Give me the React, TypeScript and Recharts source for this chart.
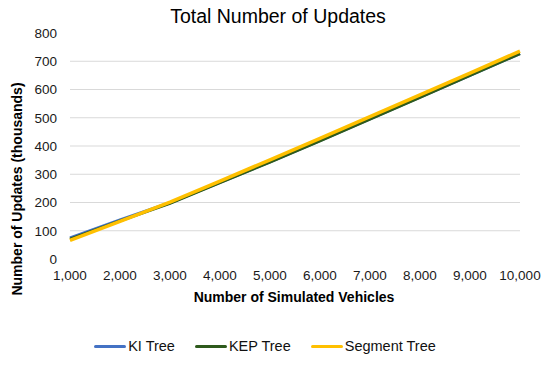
import { LineChart, Line, XAxis, YAxis, CartesianGrid, Legend } from "recharts";

const vehicles = [1000, 2000, 3000, 4000, 5000, 6000, 7000, 8000, 9000, 10000];
const kiTree = [75, 138, 199, 271, 344, 419, 496, 573, 650, 727];
const kepTree = [70, 135, 197, 270, 343, 418, 495, 572, 650, 727];
const segmentTree = [66, 133, 201, 276, 351, 427, 504, 581, 658, 736];

const seriesNames = ["KI Tree", "KEP Tree", "Segment Tree"];
const xTicks = [1000, 2000, 3000, 4000, 5000, 6000, 7000, 8000, 9000, 10000];
const yTicks = [0, 100, 200, 300, 400, 500, 600, 700, 800];
const gridValues = [100, 200, 300, 400, 500, 600, 700];

const data = vehicles.map((v, i) => ({
  vehicles: v,
  ki: kiTree[i],
  kep: kepTree[i],
  segment: segmentTree[i],
}));

const FONT = "'Liberation Sans', Arial, sans-serif";
const tickStyle = { fontSize: 13.5, fill: "#1a1a1a", fontFamily: FONT };

function YLabel({ viewBox }: any) {
  const x = viewBox.x + 22;
  const y = viewBox.y + viewBox.height / 2 + 43;
  return (
    <text
      x={x}
      y={y}
      transform={`rotate(-90, ${x}, ${y})`}
      textAnchor="middle"
      style={{ fontSize: 14, fontWeight: "bold", fontFamily: FONT, fill: "#000" }}
    >
      Number of Updates (thousands)
    </text>
  );
}

function XLabel({ viewBox }: any) {
  return (
    <text
      x={viewBox.x + viewBox.width / 2 - 1}
      y={viewBox.y + 43}
      textAnchor="middle"
      style={{ fontSize: 14, fontWeight: "bold", fontFamily: FONT, fill: "#000" }}
    >
      Number of Simulated Vehicles
    </text>
  );
}

function LegendContent({ payload }: any) {
  const items = [...(payload || [])].sort(
    (a: any, b: any) => seriesNames.indexOf(a.value) - seriesNames.indexOf(b.value)
  );
  return (
    <div
      style={{
        display: "flex",
        justifyContent: "center",
        gap: 20,
        fontFamily: FONT,
        fontSize: 14.5,
        color: "#111",
        paddingRight: 20,
      }}
    >
      {items.map((p: any) => (
        <div key={p.value} style={{ display: "flex", alignItems: "center" }}>
          <span
            style={{
              display: "inline-block",
              width: 32,
              height: 3,
              background: p.color,
              borderRadius: 2,
              marginRight: 2,
            }}
          />
          <span>{p.value}</span>
        </div>
      ))}
    </div>
  );
}

export default function App() {
  return (
    <div style={{ position: "absolute", left: 0, top: 0, width: 550, height: 365, background: "#fff" }}>
      <div
        style={{
          position: "absolute",
          top: 5,
          left: 0,
          width: 556,
          textAlign: "center",
          fontFamily: FONT,
          fontSize: 19.5,
          color: "#000",
        }}
      >
        Total Number of Updates
      </div>
      <LineChart
        width={550}
        height={365}
        data={data}
        margin={{ top: 33, right: 30, left: 0, bottom: 36 }}
      >
        <CartesianGrid vertical={false} stroke="#d9d9d9" horizontalValues={gridValues} />
        <XAxis
          dataKey="vehicles"
          type="number"
          domain={[1000, 10000]}
          ticks={xTicks}
          tickFormatter={(v: number) => v.toLocaleString("en-US")}
          axisLine={false}
          tickLine={false}
          tickMargin={5}
          height={50}
          tick={tickStyle}
          interval={0}
          label={<XLabel />}
        />
        <YAxis
          type="number"
          domain={[0, 800]}
          ticks={yTicks}
          axisLine={false}
          tickLine={false}
          tickMargin={7}
          width={70}
          tick={tickStyle}
          interval={0}
          label={<YLabel />}
        />
        <Legend
          verticalAlign="bottom"
          content={<LegendContent />}
          wrapperStyle={{ top: 338, left: 0, width: 550, height: 20 }}
        />
        <Line
          type="linear"
          dataKey="ki"
          name="KI Tree"
          stroke="#4472c4"
          strokeWidth={3}
          dot={false}
          isAnimationActive={false}
        />
        <Line
          type="linear"
          dataKey="kep"
          name="KEP Tree"
          stroke="#2e5a1c"
          strokeWidth={3}
          dot={false}
          isAnimationActive={false}
        />
        <Line
          type="linear"
          dataKey="segment"
          name="Segment Tree"
          stroke="#ffc000"
          strokeWidth={3.5}
          dot={false}
          isAnimationActive={false}
        />
      </LineChart>
    </div>
  );
}
